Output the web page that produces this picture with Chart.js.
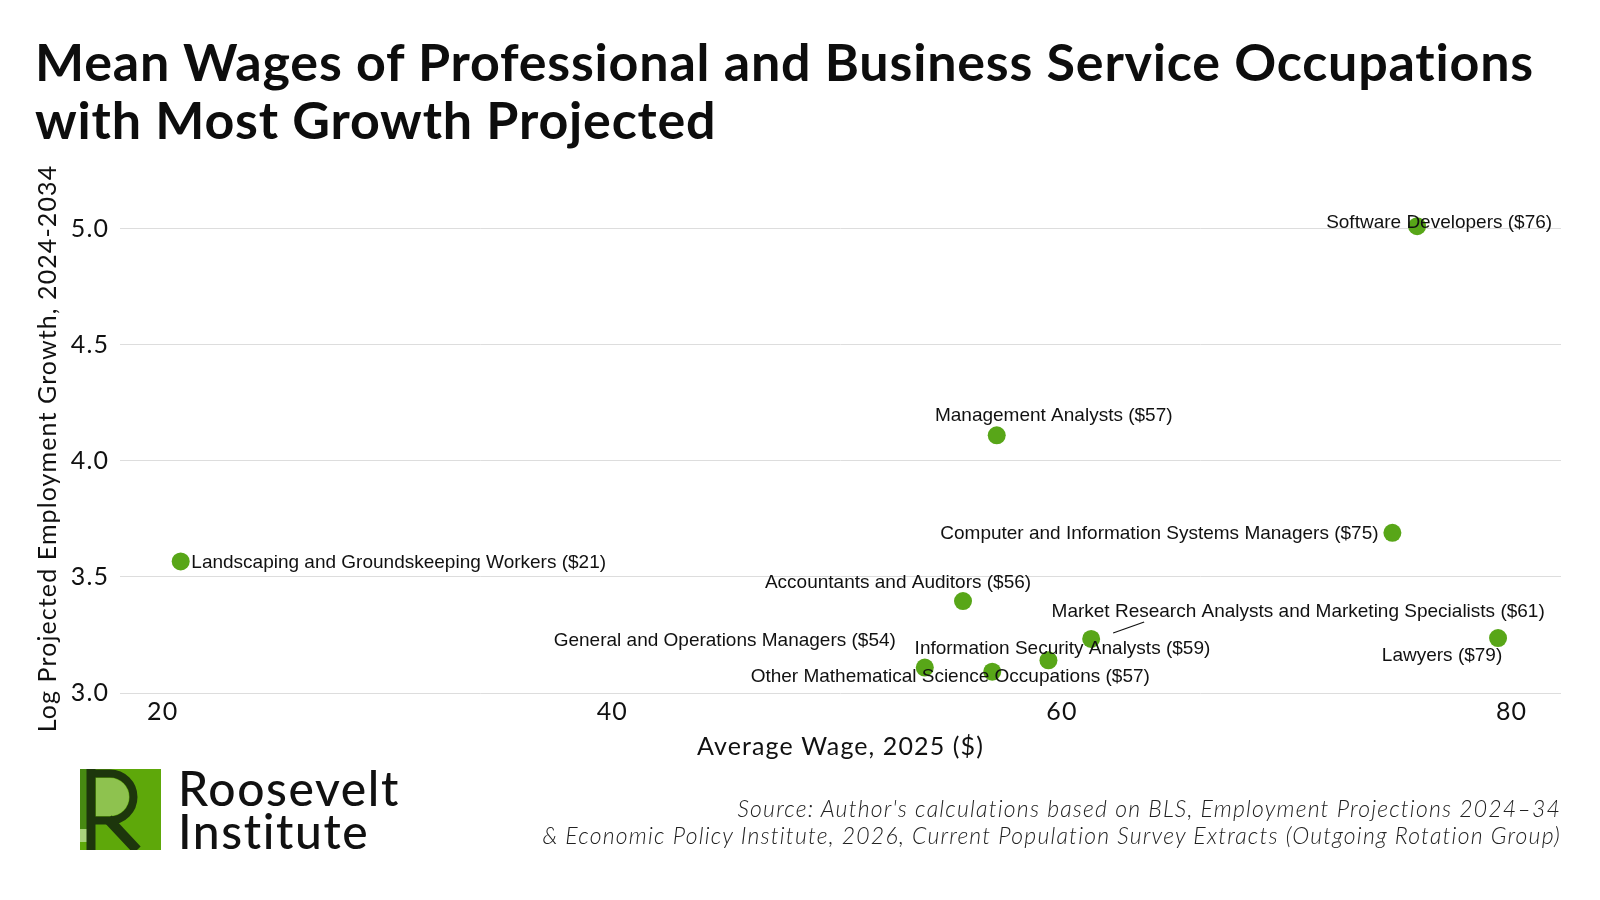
<!DOCTYPE html>
<html>
<head>
<meta charset="utf-8">
<script src="https://cdn.jsdelivr.net/npm/chart.js@4/dist/chart.umd.min.js"></script>
<style>
  html, body { margin: 0; padding: 0; background: #fff; }
  #wrap { position: relative; width: 1600px; height: 900px; overflow: hidden; }
  #chart { position: absolute; left: 0; top: 0; }
  .title {
    position: absolute; left: 35px; top: 32px;
    font-family: Lato, sans-serif; font-weight: 700; font-size: 52px; line-height: 58px;
    letter-spacing: 0.8px; color: #0d0d0d; white-space: nowrap;
  }
  .source {
    position: absolute; right: 39px; top: 795px; text-align: right;
    font-family: Lato, sans-serif; font-style: italic; font-weight: 300; font-size: 23px; line-height: 27px;
    letter-spacing: 1.2px; color: #222; white-space: nowrap;
  }
  .logo { position: absolute; left: 80px; top: 769px; }
  .logo-text {
    position: absolute; left: 178px; top: 766px;
    font-family: Lato, sans-serif; font-weight: 500; font-size: 48px; line-height: 43px;
    letter-spacing: 1.6px; color: #111; white-space: nowrap;
  }
</style>
</head>
<body>
<div id="wrap">
  <canvas id="chart" width="1600" height="900"></canvas>
  <div class="title">Mean Wages of Professional and Business Service Occupations<br>with Most Growth Projected</div>
  <svg class="logo" width="81" height="81" viewBox="0 0 81 81">
    <rect width="81" height="81" fill="#5ea80a"/>
    <rect x="0" y="0" width="7" height="60" fill="#478a12"/>
    <polygon points="0,60 7,60 7,73 0,73" fill="#a9d47c"/>
    <path d="M16 9 H30 A19 19 0 0 1 30 47 H16 Z" fill="#8ec24f"/>
    <path d="M11 0 V81" stroke="#1d360c" stroke-width="9"/>
    <path d="M11 4.5 H30 A23.5 23.5 0 0 1 30 51.5 H11" fill="none" stroke="#1d360c" stroke-width="8"/>
    <path d="M28 50 L57 81" stroke="#1d360c" stroke-width="10"/>
  </svg>
  <div class="logo-text">Roosevelt<br>Institute</div>
  <div class="source">Source: Author's calculations based on BLS, Employment Projections 2024–34<br>&amp; Economic Policy Institute, 2026, Current Population Survey Extracts (Outgoing Rotation Group)</div>
</div>
<script>
// data
const occupations = [
    'Software Developers',
    'Management Analysts',
    'Computer and Information Systems Managers',
    'Landscaping and Groundskeeping Workers',
    'Accountants and Auditors',
    'Market Research Analysts and Marketing Specialists',
    'Lawyers',
    'General and Operations Managers',
    'Information Security Analysts',
    'Other Mathematical Science Occupations',
];
const avgWage = [75.8, 57.1, 74.7, 20.8, 55.6, 61.3, 79.4, 53.9, 59.4, 56.9];
const logGrowth = [5.01, 4.11, 3.69, 3.567, 3.396, 3.233, 3.237, 3.11, 3.141, 3.092];
const xTicks = [20, 40, 60, 80];
const yTicks = [3.0, 3.5, 4.0, 4.5, 5.0];

// label placement (pixels from the point, text centred)
const labelOffsets = [
    [22, -3], [57, -19], [-233, 1], [218, 1], [-65, -18],
    [207, -27], [-56, 18], [-200, -27], [14, -12], [-42, 5],
];

const pointLabels = occupations.map((o, i) => o + ' ($' + Math.round(avgWage[i]) + ')');
const points = avgWage.map((w, i) => ({ x: w, y: logGrowth[i] }));

const axisFont = { family: 'Lato', size: 25 };

// wider tracking on the axis text, like the original typeface
const spacingPlugin = {
    id: 'axisSpacing',
    beforeDraw(chart) { chart.ctx.letterSpacing = '1.1px'; },
    afterDraw(chart) { chart.ctx.letterSpacing = '0px'; }
};

const labelPlugin = {
    id: 'pointLabels',
    afterDatasetsDraw(chart) {
        const ctx = chart.ctx;
        const meta = chart.getDatasetMeta(0);
        ctx.save();
        ctx.letterSpacing = '0px';
        // leader for market research label
        const mr = meta.data[5];
        ctx.strokeStyle = '#111';
        ctx.lineWidth = 1.2;
        ctx.beginPath();
        ctx.moveTo(mr.x + 22, mr.y - 6);
        ctx.lineTo(mr.x + 53, mr.y - 17);
        ctx.stroke();

        ctx.font = '19px "Liberation Sans", Arial, sans-serif';
        ctx.fillStyle = '#111';
        ctx.textAlign = 'center';
        ctx.textBaseline = 'middle';
        meta.data.forEach((pt, i) => {
            const off = labelOffsets[i];
            ctx.fillText(pointLabels[i], pt.x + off[0], pt.y + off[1]);
        });
        ctx.restore();
    }
};

const config = {
    type: 'scatter',
    data: {
        datasets: [{
            data: points,
            backgroundColor: '#58a618',
            borderWidth: 0,
            pointRadius: 9,
        }]
    },
    options: {
        responsive: false,
        animation: false,
        layout: { padding: { left: 0, right: 39, top: 203, bottom: 135 } },
        plugins: { legend: { display: false }, tooltip: { enabled: false } },
        scales: {
            x: {
                type: 'linear',
                min: 18.1,
                max: 82.2,
                afterBuildTicks: s => { s.ticks = xTicks.map(v => ({ value: v })); },
                afterFit: s => { s.height = 71; },
                grid: { display: false, drawTicks: false },
                border: { display: false },
                ticks: { font: axisFont, color: '#111', padding: 3, maxRotation: 0 },
                title: {
                    display: true, text: 'Average Wage, 2025 ($)',
                    font: { family: 'Lato', size: 25 }, color: '#111',
                    padding: { top: 0, bottom: 3 }
                }
            },
            y: {
                min: 2.996,
                max: 5.11,
                afterBuildTicks: s => { s.ticks = yTicks.map(v => ({ value: v })); },
                afterFit: s => { s.width = 120; },
                grid: { color: '#dddddd', lineWidth: 1, drawTicks: false },
                border: { display: false },
                ticks: { font: axisFont, color: '#111', padding: 11, callback: v => v.toFixed(1) },
                title: {
                    display: true, text: 'Log Projected Employment Growth, 2024-2034',
                    font: { family: 'Lato', size: 25 }, color: '#111',
                    padding: { top: 33, bottom: 0 }
                }
            }
        }
    },
    plugins: [spacingPlugin, labelPlugin]
};

const myChart = new Chart(document.getElementById('chart'), config);
</script>
</body>
</html>
